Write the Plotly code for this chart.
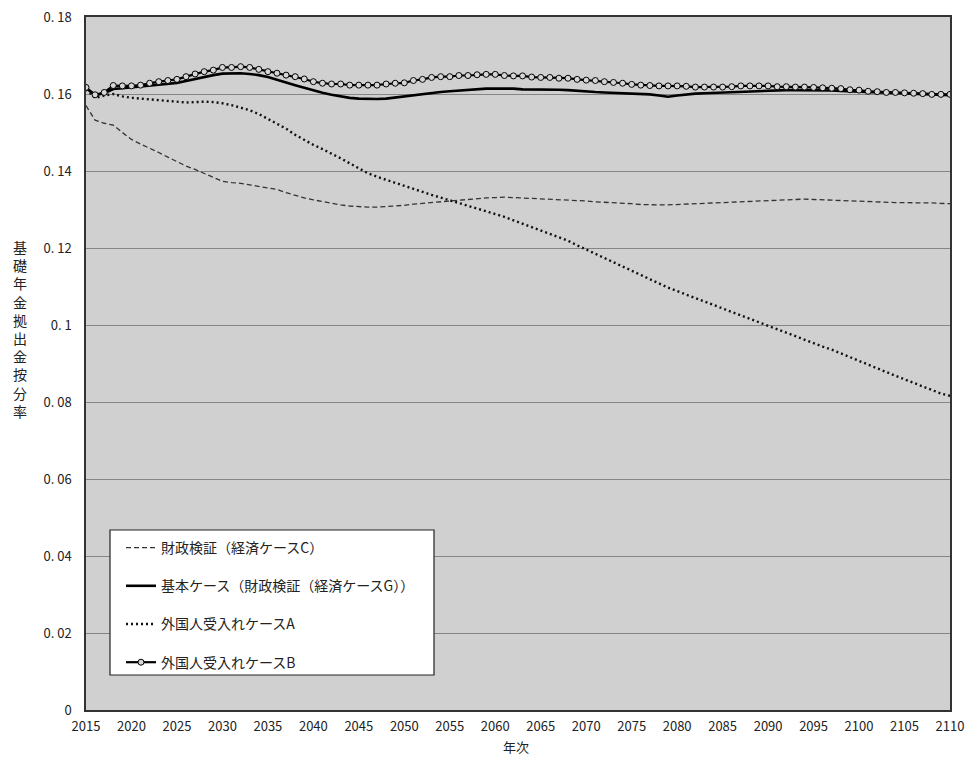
import plotly.graph_objects as go

years = list(range(2015, 2111))

case_c = [0.1570, 0.1532, 0.1524, 0.1519, 0.1500, 0.1482, 0.1470, 0.1460, 0.1448, 0.1436,
          0.1424, 0.1413, 0.1404, 0.1394, 0.1384, 0.1373, 0.1370, 0.1368, 0.1364, 0.1360,
          0.1357, 0.1352, 0.1344, 0.1336, 0.1330, 0.1325, 0.1320, 0.1316, 0.1312, 0.1309,
          0.1307, 0.1306, 0.1306, 0.1307, 0.1309, 0.1311, 0.1314, 0.1316, 0.1318, 0.1320,
          0.1323, 0.1325, 0.1327, 0.1329, 0.1330, 0.1331, 0.1332, 0.1331, 0.1330, 0.1329,
          0.1328, 0.1327, 0.1326, 0.1325, 0.1323, 0.1322, 0.1320, 0.1319, 0.1318, 0.1316,
          0.1315, 0.1313, 0.1312, 0.1312, 0.1312, 0.1313, 0.1314, 0.1315, 0.1316, 0.1317,
          0.1318, 0.1319, 0.1320, 0.1320, 0.1321, 0.1322, 0.1323, 0.1325, 0.1326, 0.1327,
          0.1326, 0.1325, 0.1324, 0.1323, 0.1322, 0.1321, 0.1320, 0.1320, 0.1319, 0.1318,
          0.1318, 0.1317, 0.1317, 0.1317, 0.1316, 0.1315]

base_case = [0.1615, 0.1597, 0.1602, 0.1613, 0.1615, 0.1617, 0.1619, 0.1622, 0.1625, 0.1627,
             0.1629, 0.1634, 0.1639, 0.1645, 0.1649, 0.1653, 0.1654, 0.1654, 0.1652, 0.1649,
             0.1644, 0.1638, 0.1630, 0.1623, 0.1616, 0.1610, 0.1603, 0.1598, 0.1594, 0.1590,
             0.1588, 0.1587, 0.1587, 0.1588, 0.1591, 0.1595, 0.1597, 0.1600, 0.1603, 0.1605,
             0.1607, 0.1609, 0.1610, 0.1612, 0.1614, 0.1614, 0.1614, 0.1614, 0.1612, 0.1612,
             0.1612, 0.1612, 0.1611, 0.1610, 0.1608, 0.1606, 0.1605, 0.1604, 0.1603, 0.1602,
             0.1602, 0.1601, 0.1599, 0.1596, 0.1593, 0.1596, 0.1599, 0.1601, 0.1602, 0.1603,
             0.1603, 0.1605, 0.1606, 0.1607, 0.1608, 0.1609, 0.1610, 0.1610, 0.1610, 0.1610,
             0.1610, 0.1609, 0.1609, 0.1608, 0.1607, 0.1606, 0.1605, 0.1604, 0.1603, 0.1602,
             0.1601, 0.1600, 0.1599, 0.1598, 0.1597, 0.1597]

case_a = [0.1612, 0.1590, 0.1596, 0.1600, 0.1594, 0.1590, 0.1588, 0.1586, 0.1585, 0.1583,
          0.1581, 0.1578, 0.1579, 0.1580, 0.1579, 0.1576, 0.1571, 0.1565, 0.1558, 0.1548,
          0.1536, 0.1524, 0.1510, 0.1494, 0.1480, 0.1468, 0.1457, 0.1446, 0.1433, 0.1420,
          0.1406, 0.1394, 0.1385, 0.1377, 0.1370, 0.1362, 0.1353, 0.1345, 0.1338, 0.1331,
          0.1324, 0.1317, 0.1310, 0.1303, 0.1296, 0.1289, 0.1281, 0.1272, 0.1263, 0.1255,
          0.1246, 0.1237, 0.1228, 0.1219, 0.1207, 0.1196, 0.1185, 0.1173, 0.1161, 0.1150,
          0.1139, 0.1129, 0.1118, 0.1107, 0.1097, 0.1088, 0.1079, 0.1070, 0.1061, 0.1052,
          0.1043, 0.1034, 0.1025, 0.1015, 0.1006, 0.0997, 0.0988, 0.0979, 0.0970, 0.0961,
          0.0952, 0.0944, 0.0936, 0.0926, 0.0916, 0.0906, 0.0896, 0.0887, 0.0878, 0.0868,
          0.0859, 0.0850, 0.0840, 0.0830, 0.0822, 0.0816]

case_b = [0.1617, 0.1598, 0.1604, 0.1622, 0.1621, 0.1621, 0.1623, 0.1628, 0.1632, 0.1635,
          0.1638, 0.1645, 0.1652, 0.1658, 0.1662, 0.1669, 0.1669, 0.1671, 0.1669, 0.1664,
          0.1658, 0.1654, 0.1649, 0.1645, 0.1639, 0.1632, 0.1628, 0.1626, 0.1626, 0.1623,
          0.1623, 0.1623, 0.1623, 0.1626, 0.1628, 0.1629, 0.1635, 0.1638, 0.1643, 0.1645,
          0.1645, 0.1648, 0.1648, 0.1650, 0.1651, 0.1651, 0.1648, 0.1647, 0.1647, 0.1644,
          0.1643, 0.1643, 0.1641, 0.1641, 0.1638, 0.1636, 0.1635, 0.1632, 0.1630, 0.1628,
          0.1625, 0.1623, 0.1622, 0.1621, 0.1621, 0.1621, 0.1620, 0.1618, 0.1618, 0.1618,
          0.1618, 0.1619, 0.1621, 0.1621, 0.1621, 0.1621, 0.1619, 0.1619, 0.1618, 0.1618,
          0.1617, 0.1616, 0.1615, 0.1614, 0.1611, 0.1610, 0.1607, 0.1606, 0.1604, 0.1604,
          0.1603, 0.1602, 0.1601, 0.1599, 0.1599, 0.1599]

names = ["財政検証（経済ケースC）",
         "基本ケース（財政検証（経済ケースG））",
         "外国人受入れケースA",
         "外国人受入れケースB"]

y_ticks = [0, 0.02, 0.04, 0.06, 0.08, 0.10, 0.12, 0.14, 0.16, 0.18]
y_ticktext = ["0", "0. 02", "0. 04", "0. 06", "0. 08", "0. 1", "0. 12", "0. 14", "0. 16", "0. 18"]
x_ticks = list(range(2015, 2111, 5))

y_title = "基礎年金拠出金按分率"
x_title = "年次"

FONT = "Noto Sans CJK JP, sans-serif"

fig = go.Figure()

fig.add_trace(go.Scatter(x=years, y=case_c, name=names[0], mode="lines",
                         line=dict(color="#333333", width=1.3, dash="5px,3px"),
                         legendgroup="c", legendrank=1))
fig.add_trace(go.Scatter(x=years, y=case_a, name=names[2], mode="lines",
                         line=dict(color="#111111", width=2.4, dash="2px,3px"),
                         legendgroup="a", legendrank=3))
fig.add_trace(go.Scatter(x=years, y=base_case, name=names[1], mode="lines",
                         line=dict(color="#000000", width=2.6),
                         legendgroup="base", legendrank=2))
fig.add_trace(go.Scatter(x=years, y=case_b, name=names[3], mode="lines+markers",
                         line=dict(color="#000000", width=2.2),
                         marker=dict(symbol="circle", size=6, color="#d6d6d6",
                                     line=dict(color="#000000", width=1)),
                         legendgroup="b", legendrank=4))

# legend frame (white box with black border), plot area is 864 x 693 px
fig.add_shape(type="rect", xref="paper", yref="paper",
              x0=(110 - 86) / 864, x1=(434 - 86) / 864,
              y0=(710 - 675) / 693, y1=(710 - 530) / 693,
              fillcolor="white", line=dict(color="#222222", width=1.2), layer="above")

fig.update_layout(
    width=967, height=758,
    margin=dict(l=86, r=17, t=17, b=48),
    paper_bgcolor="white",
    plot_bgcolor="#d0d0d0",
    font=dict(family=FONT, size=13, color="#222222"),
    showlegend=True,
    legend=dict(
        x=(121 - 86) / 864, y=(710 - 532) / 693, xanchor="left", yanchor="top",
        bgcolor="rgba(0,0,0,0)", borderwidth=0,
        font=dict(family=FONT, size=14, color="#222222"),
        traceorder="grouped", tracegroupgap=17,
    ),
    xaxis=dict(
        range=[2015, 2110], tickmode="array", tickvals=x_ticks,
        ticktext=[str(v) for v in x_ticks],
        showgrid=False, zeroline=False, automargin=False,
        showline=True, linecolor="#333333", linewidth=1.5, mirror=True,
        ticks="", tickfont=dict(size=13), ticklabelstandoff=4,
    ),
    yaxis=dict(
        range=[0, 0.18], tickmode="array", tickvals=y_ticks, ticktext=y_ticktext,
        showgrid=True, gridcolor="#858585", gridwidth=1, zeroline=False,
        automargin=False,
        showline=True, linecolor="#333333", linewidth=1.5, mirror=True,
        ticks="", tickfont=dict(size=13), ticklabelstandoff=10,
    ),
    annotations=[
        dict(text="<br>".join(list(y_title)), xref="paper", yref="paper",
             x=-0.076, y=0.55, xanchor="center", yanchor="middle", showarrow=False,
             font=dict(family=FONT, size=14, color="#222222")),
        dict(text=x_title, xref="paper", yref="paper",
             x=0.498, y=(710 - 746) / 693, xanchor="center", yanchor="middle",
             showarrow=False,
             font=dict(family=FONT, size=13, color="#222222")),
    ],
)

fig.write_html(
    "out.html",
    config={"displayModeBar": False},
    post_script="document.body.style.margin='0px';document.body.style.overflow='hidden';",
)
